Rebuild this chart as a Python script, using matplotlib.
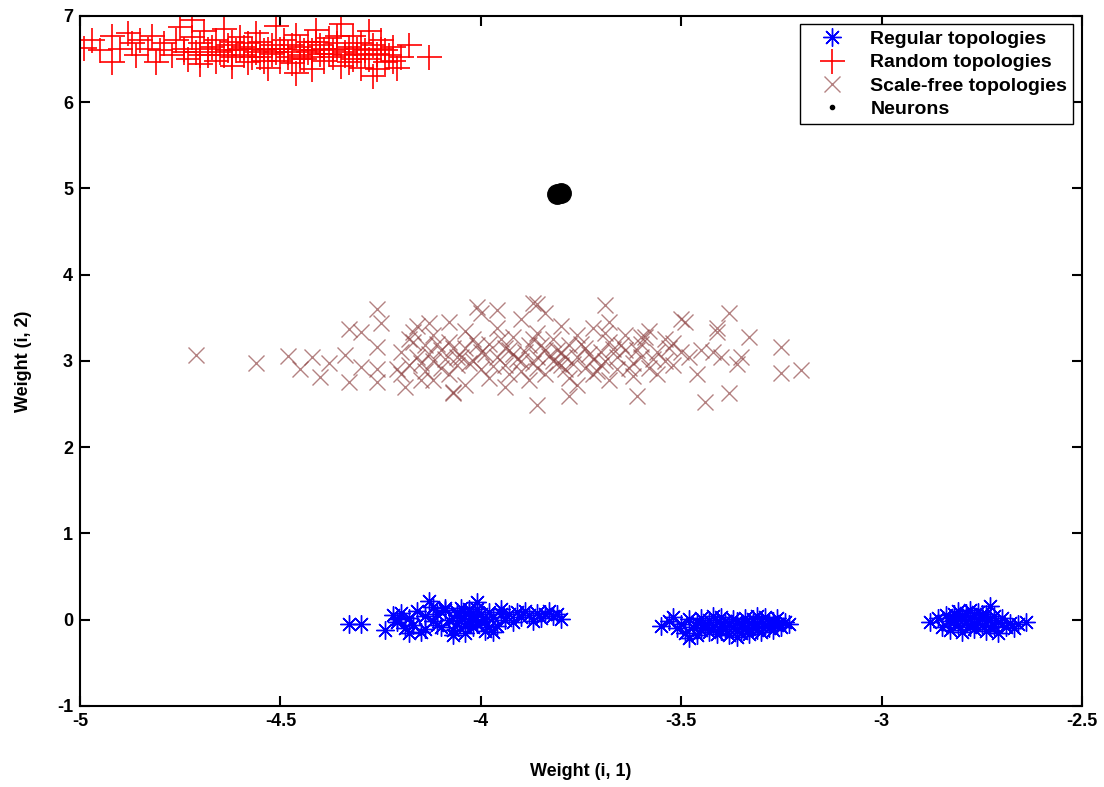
import numpy as np
import matplotlib
matplotlib.use("Agg")
import matplotlib.pyplot as plt
from matplotlib.lines import Line2D

plt.rcParams['font.family'] = ['Liberation Sans', 'DejaVu Sans']
plt.rcParams['font.weight'] = 'bold'
plt.rcParams['axes.unicode_minus'] = False

# Regular topologies (three clusters near y = 0)
regular_pts = [
    (-4.33, -0.05), (-4.30, -0.05), (-4.24, -0.12), (-4.22, 0.05), (-4.21, -0.03), (-4.20, 0.08),
    (-4.19, -0.10), (-4.18, 0.02), (-4.17, -0.06), (-4.16, 0.10), (-4.15, -0.14), (-4.14, 0.04),
    (-4.13, 0.22), (-4.12, -0.02), (-4.12, 0.15), (-4.11, 0.06), (-4.10, -0.08), (-4.09, 0.11),
    (-4.08, 0.00), (-4.07, -0.12), (-4.06, 0.05), (-4.06, -0.04), (-4.05, 0.14), (-4.05, 0.02),
    (-4.04, -0.16), (-4.04, 0.08), (-4.03, -0.02), (-4.03, 0.12), (-4.02, 0.04), (-4.02, -0.09),
    (-4.01, 0.12), (-4.01, -0.05), (-4.00, 0.07), (-4.01, 0.21), (-3.99, -0.01), (-3.99, -0.13),
    (-3.98, 0.09), (-3.97, 0.03), (-3.96, -0.07), (-3.95, 0.12), (-3.94, 0.00), (-3.93, 0.07),
    (-3.92, -0.03), (-3.91, 0.09), (-3.90, 0.03), (-3.89, 0.10), (-3.88, 0.05), (-3.87, -0.01),
    (-3.86, 0.08), (-3.85, 0.02), (-3.84, 0.06), (-3.83, 0.10), (-3.82, 0.04), (-3.81, 0.07),
    (-3.80, 0.01), (-4.18, -0.16), (-4.14, -0.11), (-4.09, 0.13), (-4.07, -0.18), (-4.03, 0.10),
    (-3.97, -0.14), (-3.95, 0.06), (-4.11, -0.06), (-4.21, 0.01), (-4.06, 0.09), (-4.04, -0.07),
    (-4.02, 0.01), (-4.00, -0.03), (-3.98, -0.08),
    (-3.55, -0.07), (-3.53, -0.02), (-3.52, 0.03), (-3.51, -0.10), (-3.50, -0.05), (-3.49, -0.15),
    (-3.48, 0.01), (-3.48, -0.21), (-3.47, -0.08), (-3.46, -0.03), (-3.45, -0.12), (-3.45, 0.02),
    (-3.44, -0.06), (-3.43, -0.14), (-3.43, 0.00), (-3.42, -0.09), (-3.41, -0.03), (-3.41, -0.17),
    (-3.40, -0.07), (-3.40, 0.03), (-3.39, -0.11), (-3.38, -0.04), (-3.38, -0.18), (-3.37, 0.01),
    (-3.37, -0.08), (-3.36, -0.13), (-3.36, -0.02), (-3.35, -0.06), (-3.35, -0.15), (-3.34, 0.02),
    (-3.34, -0.10), (-3.33, -0.04), (-3.33, -0.17), (-3.32, -0.08), (-3.32, 0.01), (-3.31, -0.12),
    (-3.31, -0.05), (-3.30, -0.02), (-3.30, -0.14), (-3.29, -0.07), (-3.29, 0.03), (-3.28, -0.10),
    (-3.28, -0.04), (-3.27, -0.01), (-3.27, -0.12), (-3.26, -0.06), (-3.26, 0.02), (-3.25, -0.09),
    (-3.24, -0.03), (-3.23, -0.05), (-3.46, -0.18), (-3.42, 0.04), (-3.39, -0.01), (-3.36, -0.20),
    (-3.31, 0.04), (-3.44, -0.10), (-3.40, -0.13), (-3.35, -0.09), (-3.38, -0.06), (-3.33, -0.11),
    (-2.88, -0.03), (-2.86, 0.02), (-2.85, -0.08), (-2.84, 0.05), (-2.83, -0.02), (-2.83, -0.12),
    (-2.82, 0.07), (-2.82, 0.00), (-2.81, -0.06), (-2.81, 0.10), (-2.80, -0.14), (-2.80, 0.03),
    (-2.79, -0.04), (-2.79, 0.08), (-2.78, -0.09), (-2.78, 0.01), (-2.77, 0.05), (-2.77, -0.11),
    (-2.76, -0.02), (-2.76, 0.09), (-2.75, -0.06), (-2.75, 0.03), (-2.74, -0.13), (-2.74, 0.06),
    (-2.73, 0.00), (-2.73, 0.16), (-2.72, -0.07), (-2.72, 0.04), (-2.71, -0.03), (-2.71, -0.15),
    (-2.70, 0.02), (-2.69, -0.09), (-2.68, -0.04), (-2.67, -0.10), (-2.66, -0.05), (-2.64, -0.03),
    (-2.79, -0.01), (-2.77, -0.05), (-2.75, 0.07), (-2.73, -0.08), (-2.80, 0.05), (-2.78, 0.11),
]

# Random topologies (top-left band)
random_pts = [
    (-4.99, 6.63), (-4.97, 6.72), (-4.95, 6.60), (-4.92, 6.76), (-4.92, 6.46), (-4.90, 6.62),
    (-4.88, 6.80), (-4.87, 6.68), (-4.86, 6.55), (-4.85, 6.72), (-4.83, 6.62), (-4.82, 6.76),
    (-4.81, 6.46), (-4.80, 6.60), (-4.79, 6.68), (-4.77, 6.55), (-4.76, 6.72), (-4.75, 6.87),
    (-4.74, 6.62), (-4.73, 6.50), (-4.72, 6.95), (-4.72, 6.75), (-4.71, 6.58), (-4.70, 6.68),
    (-4.70, 6.44), (-4.69, 6.82), (-4.68, 6.55), (-4.67, 6.64), (-4.66, 6.72), (-4.66, 6.48),
    (-4.65, 6.58), (-4.64, 6.85), (-4.63, 6.66), (-4.62, 6.52), (-4.62, 6.42), (-4.61, 6.60),
    (-4.60, 6.75), (-4.59, 6.55), (-4.58, 6.68), (-4.58, 6.46), (-4.57, 6.62), (-4.56, 6.80),
    (-4.55, 6.52), (-4.55, 6.70), (-4.54, 6.60), (-4.53, 6.40), (-4.52, 6.66), (-4.52, 6.56),
    (-4.51, 6.88), (-4.50, 6.62), (-4.50, 6.48), (-4.49, 6.72), (-4.48, 6.58), (-4.47, 6.66),
    (-4.47, 6.45), (-4.46, 6.78), (-4.45, 6.55), (-4.45, 6.64), (-4.44, 6.50), (-4.43, 6.70),
    (-4.42, 6.60), (-4.42, 6.38), (-4.41, 6.84), (-4.40, 6.56), (-4.40, 6.66), (-4.39, 6.48),
    (-4.38, 6.74), (-4.37, 6.60), (-4.37, 6.52), (-4.36, 6.68), (-4.35, 6.42), (-4.35, 6.90),
    (-4.34, 6.58), (-4.33, 6.64), (-4.32, 6.50), (-4.32, 6.76), (-4.31, 6.56), (-4.30, 6.68),
    (-4.30, 6.40), (-4.29, 6.60), (-4.28, 6.82), (-4.28, 6.50), (-4.27, 6.66), (-4.26, 6.56),
    (-4.26, 6.38), (-4.25, 6.72), (-4.24, 6.60), (-4.24, 6.46), (-4.23, 6.54), (-4.22, 6.64),
    (-4.21, 6.40), (-4.20, 6.52), (-4.18, 6.66), (-4.13, 6.52), (-4.27, 6.30), (-4.46, 6.34),
    (-4.60, 6.62), (-4.53, 6.62), (-4.43, 6.58), (-4.39, 6.62), (-4.34, 6.54), (-4.56, 6.58),
    (-4.63, 6.60), (-4.48, 6.52), (-4.41, 6.70), (-4.36, 6.62), (-4.31, 6.62), (-4.51, 6.58),
    (-4.45, 6.50), (-4.68, 6.62), (-4.74, 6.58), (-4.64, 6.54), (-4.59, 6.64), (-4.54, 6.48),
    (-4.49, 6.62), (-4.44, 6.60), (-4.38, 6.56), (-4.33, 6.46), (-4.29, 6.54), (-4.25, 6.62),
    (-4.57, 6.52), (-4.42, 6.52), (-4.36, 6.76), (-4.62, 6.70), (-4.22, 6.48), (-4.70, 6.54),
]

# Scale-free topologies (middle band around y = 3)
scalefree_pts = [
    (-4.71, 3.07), (-4.56, 2.98), (-4.48, 3.06), (-4.45, 2.90), (-4.42, 3.04), (-4.38, 2.97),
    (-4.40, 2.81), (-4.34, 3.07), (-4.33, 2.75), (-4.33, 3.37), (-4.30, 3.33), (-4.26, 3.60),
    (-4.25, 3.44), (-4.26, 3.16), (-4.26, 2.90), (-4.26, 2.76), (-4.30, 2.93), (-4.17, 3.34),
    (-4.17, 3.22), (-4.13, 3.44), (-4.19, 2.70), (-4.15, 2.78), (-4.07, 2.64), (-4.21, 2.90),
    (-3.69, 3.65), (-3.38, 3.56), (-3.33, 3.28), (-3.25, 3.16), (-3.25, 2.86), (-3.20, 2.89),
    (-3.44, 2.52), (-3.38, 2.63), (-3.46, 2.85), (-3.35, 3.04), (-3.42, 3.10), (-3.41, 3.34),
    (-3.41, 3.38), (-3.50, 3.48), (-3.49, 3.45), (-3.50, 3.10), (-3.52, 3.21), (-3.61, 2.59),
    (-3.86, 2.49), (-3.87, 3.67), (-3.86, 3.66), (-4.01, 3.62), (-3.96, 3.59), (-4.07, 2.63),
    (-3.78, 2.59), (-3.60, 3.28), (-3.53, 3.15), (-3.52, 2.95), (-3.48, 3.05), (-3.45, 3.12),
    (-3.40, 3.05), (-3.36, 2.96),
    (-4.20, 3.10), (-4.20, 2.85), (-4.18, 3.25), (-4.18, 2.95), (-4.16, 3.05), (-4.16, 3.40),
    (-4.14, 2.88), (-4.14, 3.18), (-4.12, 3.30), (-4.12, 3.00), (-4.12, 2.78), (-4.10, 3.12),
    (-4.10, 2.92), (-4.08, 3.22), (-4.08, 3.45), (-4.08, 2.85), (-4.06, 3.05), (-4.06, 2.95),
    (-4.04, 3.35), (-4.04, 3.15), (-4.04, 2.72), (-4.02, 3.00), (-4.02, 3.25), (-4.00, 2.90),
    (-4.00, 3.10), (-4.00, 3.55), (-3.98, 3.20), (-3.98, 2.80), (-3.96, 3.05), (-3.96, 3.38),
    (-3.94, 2.95), (-3.94, 3.15), (-3.94, 2.70), (-3.92, 3.28), (-3.92, 3.08), (-3.90, 2.88),
    (-3.90, 3.48), (-3.90, 3.00), (-3.88, 3.18), (-3.88, 2.78), (-3.86, 3.05), (-3.86, 3.32),
    (-3.86, 2.92), (-3.84, 3.12), (-3.84, 3.55), (-3.84, 2.85), (-3.82, 3.00), (-3.82, 3.25),
    (-3.80, 2.95), (-3.80, 3.40), (-3.80, 3.10), (-3.78, 3.18), (-3.78, 2.80), (-3.76, 3.05),
    (-3.76, 3.30), (-3.76, 2.72), (-3.74, 2.92), (-3.74, 3.15), (-3.72, 3.38), (-3.72, 3.02),
    (-3.72, 2.85), (-3.70, 3.10), (-3.70, 2.95), (-3.68, 3.22), (-3.68, 2.78), (-3.68, 3.45),
    (-3.66, 3.05), (-3.66, 2.90), (-3.64, 3.30), (-3.64, 3.12), (-3.62, 2.98), (-3.62, 2.82),
    (-3.60, 3.20), (-3.60, 3.05), (-3.58, 3.35), (-3.58, 2.92), (-3.56, 3.10), (-3.56, 2.85),
    (-3.54, 3.00), (-3.54, 3.25),
    (-4.05, 3.05), (-4.03, 2.98), (-3.99, 3.08), (-3.97, 2.94), (-3.93, 3.12), (-3.91, 3.02),
    (-3.89, 3.10), (-3.87, 2.98), (-3.83, 3.06), (-3.81, 2.98), (-3.79, 3.04), (-3.77, 2.96),
    (-3.81, 3.12), (-3.85, 3.18), (-3.73, 3.08), (-3.71, 2.88), (-3.69, 3.00), (-3.67, 3.14),
    (-3.95, 3.25), (-4.09, 3.02), (-4.13, 3.08), (-4.15, 2.98), (-4.07, 3.15), (-4.01, 3.18),
    (-3.63, 2.92), (-3.61, 3.12), (-3.57, 3.02), (-3.65, 3.18), (-3.75, 3.20), (-3.93, 2.85),
    (-4.11, 3.20), (-3.87, 3.25), (-3.79, 2.90), (-3.69, 3.32), (-3.59, 3.28),
]

# Neuron positions
neuron_x = [-3.81, -3.80]
neuron_y = [4.93, 4.94]

legend_labels = ['Regular topologies', 'Random topologies', 'Scale-free topologies', 'Neurons']

reg = np.array(regular_pts).T
rnd = np.array(random_pts).T
sf = np.array(scalefree_pts).T

fig = plt.figure(figsize=(11.04, 7.87), dpi=100)
ax = fig.add_axes([0.0725, 0.103, 0.9075, 0.877])

brown = '#8c4040'
asterisk = (8, 2, 0)
ax.plot(reg[0], reg[1], linestyle='none', marker=asterisk, markersize=13,
        markeredgecolor='blue', markeredgewidth=1.0)
ax.plot(rnd[0], rnd[1], linestyle='none', marker='+', markersize=18,
        markeredgecolor='red', markeredgewidth=1.2)
ax.plot(sf[0], sf[1], linestyle='none', marker='x', markersize=11,
        markeredgecolor=brown, markeredgewidth=1.0, alpha=0.65)
ax.plot(neuron_x, neuron_y, linestyle='none', marker='o', markersize=14,
        color='black')

ax.set_xlim(-5, -2.5)
ax.set_ylim(-1, 7)
ax.set_xticks([-5, -4.5, -4, -3.5, -3, -2.5])
ax.set_xticklabels(['-5', '-4.5', '-4', '-3.5', '-3', '-2.5'])
ax.set_yticks(range(-1, 8))
ax.tick_params(direction='in', length=7, width=1.5, top=True, right=True,
               labelsize=13, pad=5)
for s in ax.spines.values():
    s.set_linewidth(1.5)

ax.set_xlabel('Weight (i, 1)', fontsize=13, fontweight='bold', labelpad=24)
ax.set_ylabel('Weight (i, 2)', fontsize=13, fontweight='bold', labelpad=18)

handles = [
    Line2D([], [], linestyle='none', marker=asterisk, markersize=13,
           markeredgecolor='blue', markeredgewidth=1.0),
    Line2D([], [], linestyle='none', marker='+', markersize=18,
           markeredgecolor='red', markeredgewidth=1.2),
    Line2D([], [], linestyle='none', marker='x', markersize=11,
           markeredgecolor=brown, markeredgewidth=1.0, alpha=0.65),
    Line2D([], [], linestyle='none', marker='o', markersize=3, color='black'),
]
leg = ax.legend(handles, legend_labels, loc='upper right', fontsize=14,
                frameon=True, fancybox=False, edgecolor='black',
                borderpad=0.3, labelspacing=0.3, handletextpad=0.7,
                handlelength=2.6, borderaxespad=0.45, framealpha=1)
leg.get_frame().set_linewidth(1.0)
for t in leg.get_texts():
    t.set_fontweight('bold')

fig.savefig('out.png', dpi=100)
